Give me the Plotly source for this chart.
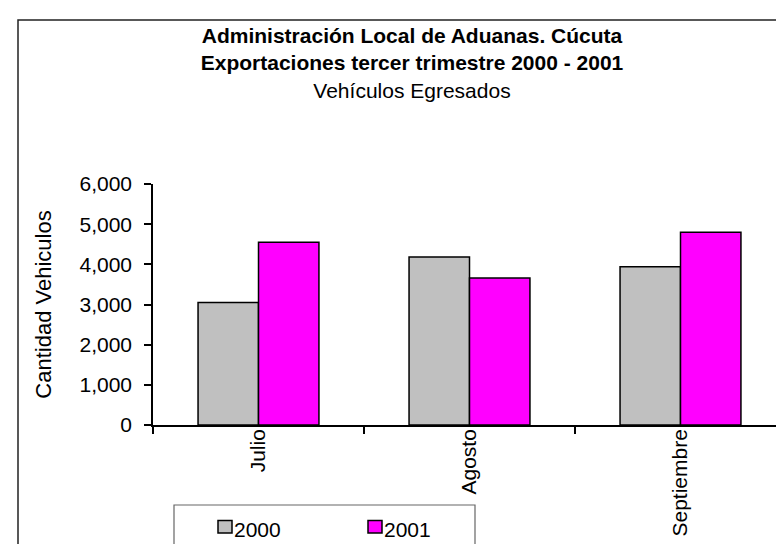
import plotly.graph_objects as go

# datos
meses = ["Julio", "Agosto", "Septiembre"]
anios = ["2000", "2001"]
v2000 = [3050, 4180, 3940]
v2001 = [4550, 3660, 4800]
colores = ["#C0C0C0", "#FF00FF"]

W, H = 784, 544
L, R, T, B = 145, 778, 176, 417   # area del grafico en pixeles
fuente = "Liberation Sans, Arial, sans-serif"


def px(x):
    return (x - L) / (R - L)


def py(y):
    return (B - y) / (B - T)


fig = go.Figure()
for nombre, vals, col in zip(anios, [v2000, v2001], colores):
    fig.add_trace(go.Bar(x=meses, y=vals, name=nombre, marker=dict(color=col, line=dict(color="black", width=1.5))))

shapes = [
    # borde del area del grafico (recortado a la derecha y abajo)
    dict(type="rect", xref="paper", yref="paper", x0=px(10), x1=px(800), y0=py(12), y1=py(560),
         line=dict(color="#222222", width=1.5), fillcolor="rgba(0,0,0,0)", layer="below"),
    # cuadro de leyenda
    dict(type="rect", xref="paper", yref="paper", x0=px(166), x1=px(467), y0=py(497), y1=py(541),
         line=dict(color="#666666", width=1.2), fillcolor="white"),
]
annotations = []
ley_x = [210, 360]
for i, nombre in enumerate(anios):
    x0 = ley_x[i]
    shapes.append(dict(type="rect", xref="paper", yref="paper", x0=px(x0), x1=px(x0 + 14),
                       y0=py(512.5), y1=py(525), fillcolor=colores[i], line=dict(color="black", width=1.5)))
    annotations.append(dict(text=nombre, xref="paper", yref="paper", x=px(x0 + 14), y=py(521),
                            xanchor="left", yanchor="middle", showarrow=False,
                            font=dict(family=fuente, size=21, color="black")))

fig.update_layout(
    width=W, height=H,
    margin=dict(l=L, r=W - R, t=T, b=H - B, pad=0),
    paper_bgcolor="white", plot_bgcolor="white",
    font=dict(family=fuente, size=21, color="black"),
    barmode="group", bargap=0.427, bargroupgap=0,
    showlegend=False,
    title=dict(text="<b>Administración Local de Aduanas. Cúcuta</b><br><b>Exportaciones tercer trimestre 2000 - 2001</b><br>Vehículos Egresados",
               x=px(404), xref="paper", xanchor="center", y=1 - 35 / H, yref="container", yanchor="top",
               font=dict(family=fuente, size=21, color="black")),
    xaxis=dict(showline=True, linecolor="black", linewidth=1.5, ticks="outside", ticklen=7, tickwidth=1.5,
               tickcolor="black", tickson="boundaries", tickangle=-90, showgrid=False, automargin=False,
               ticklabelstandoff=-6, tickfont=dict(family=fuente, size=21)),
    yaxis=dict(range=[0, 6000], dtick=1000, tickformat=",", showline=True, linecolor="black", linewidth=1.5,
               ticks="outside", ticklen=7, tickwidth=1.5, tickcolor="black", showgrid=False, zeroline=False,
               automargin=False, ticklabelstandoff=8, tickfont=dict(family=fuente, size=21),
               title=dict(text="Cantidad Vehiculos", standoff=22, font=dict(family=fuente, size=22))),
    shapes=shapes, annotations=annotations,
)

fig.write_html("out.html")
